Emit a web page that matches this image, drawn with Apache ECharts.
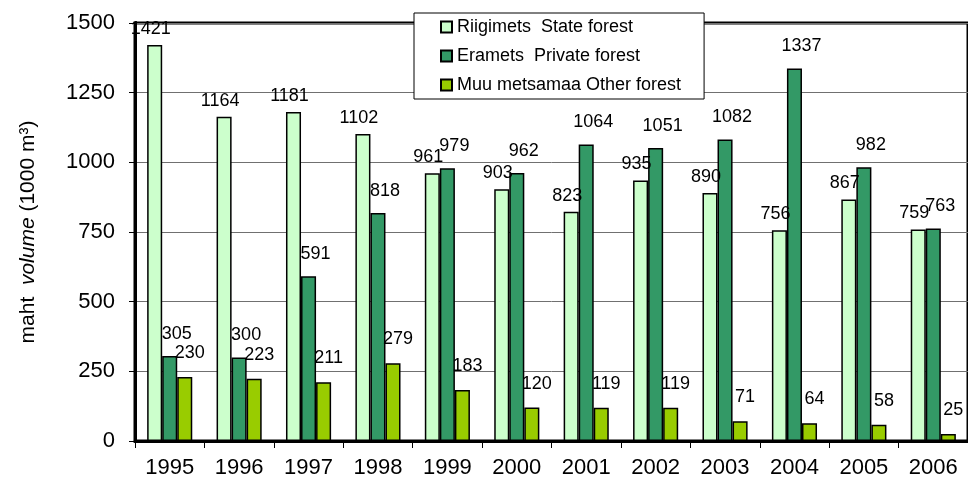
<!DOCTYPE html>
<html>
<head>
<meta charset="utf-8">
<script src="https://cdn.jsdelivr.net/npm/echarts@6/dist/echarts.min.js"></script>
<style>
html,body{margin:0;padding:0;background:#fff;}
#chart{width:968px;height:489px;}
</style>
</head>
<body>
<div id="chart"></div>
<script>
const years = ['1995','1996','1997','1998','1999','2000','2001','2002','2003','2004','2005','2006'];
const stateForest = [1421,1164,1181,1102,961,903,823,935,890,756,867,759];
const privateForest = [305,300,591,818,979,962,1064,1051,1082,1337,982,763];
const otherForest = [230,223,211,279,183,120,119,119,71,64,58,25];
const seriesNames = ['Riigimets  State forest','Eramets  Private forest','Muu metsamaa Other forest'];
const yTicks = [0,250,500,750,1000,1250,1500];

const font = 'Arial, "Liberation Sans", sans-serif';
const chart = echarts.init(document.getElementById('chart'), null, {renderer:'canvas'});

function barSeries(name, data, color, offset){
  return {
    name: name,
    type: 'bar',
    data: data,
    barGap: '0%',
    barCategoryGap: '35%',
    itemStyle: {color: color, borderColor: '#000', borderWidth: 1.5},
    label: {
      show: true, position: 'top', distance: 5, offset: offset,
      color: '#000', fontSize: 18, fontFamily: font
    },
    emphasis: {disabled: true},
    animation: false
  };
}

chart.setOption({
  animation: false,
  backgroundColor: '#fff',
  grid: {
    left: 135, right: -6, top: 23, bottom: 48,
    show: true, borderColor: '#000', borderWidth: 3, backgroundColor: 'transparent'
  },
  legend: {
    data: seriesNames,
    orient: 'vertical',
    left: 414, top: 13,
    padding: [5, 23, 5, 26],
    itemGap: 11,
    itemWidth: 11, itemHeight: 11,
    icon: 'rect',
    backgroundColor: '#fff',
    borderColor: '#000', borderWidth: 1,
    textStyle: {fontSize: 18, fontFamily: font, color: '#000', lineHeight: 18},
    selectedMode: false
  },
  xAxis: {
    type: 'category',
    data: years,
    axisLine: {show: true, lineStyle: {color: '#000', width: 3}},
    axisTick: {show: true, inside: false, length: 7, lineStyle: {color: '#000', width: 1}},
    axisLabel: {fontSize: 22, fontFamily: font, color: '#000', margin: 16},
    splitLine: {show: false}
  },
  yAxis: {
    type: 'value',
    min: yTicks[0], max: yTicks[yTicks.length-1], interval: 250,
    name: '{a|maht  }{b|volume}{a| (1000 m³)}',
    nameLocation: 'middle',
    nameGap: 96,
    nameRotate: 90,
    nameTextStyle: {
      rich: {
        a: {fontSize: 21, fontFamily: font, color: '#000'},
        b: {fontSize: 21, fontFamily: font, color: '#000', fontStyle: 'italic'}
      }
    },
    axisLine: {show: true, lineStyle: {color: '#000', width: 3}},
    axisTick: {show: true, inside: false, length: 6, lineStyle: {color: '#000', width: 1}},
    axisLabel: {fontSize: 22, fontFamily: font, color: '#000', margin: 20, formatter: v => String(v)},
    splitLine: {show: true, lineStyle: {color: '#707070', width: 1}}
  },
  series: [
    barSeries(seriesNames[0], stateForest, '#CCFFCC', [-4, -2]),
    barSeries(seriesNames[1], privateForest, '#339966', [7, -8]),
    barSeries(seriesNames[2], otherForest, '#99CC00', [5, -10])
  ]
});
</script>
</body>
</html>
